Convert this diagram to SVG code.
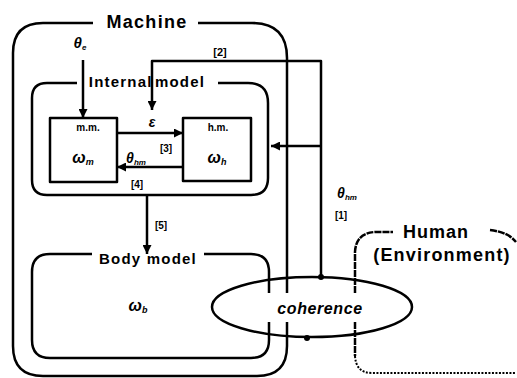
<svg xmlns="http://www.w3.org/2000/svg" width="517" height="378" viewBox="0 0 517 378">
<defs>
<style>
.ln{fill:none;stroke:#000;stroke-width:2.5;stroke-linejoin:round}
.hm{fill:none;stroke:#000;stroke-width:2.5;stroke-dasharray:7 1}
.dot{fill:none;stroke:#000;stroke-width:2;stroke-dasharray:2 1.5}
.t{font-family:"Liberation Sans",Arial,sans-serif;font-weight:bold;fill:#000;text-anchor:middle}
.ti{font-family:"Liberation Sans",Arial,sans-serif;font-weight:bold;font-style:italic;fill:#000;text-anchor:middle}
</style>
<marker id="ah" viewBox="0 0 10 10" refX="10" refY="5" markerWidth="9" markerHeight="9" markerUnits="userSpaceOnUse" orient="auto">
<path d="M0,0 L10,5 L0,10 z" fill="#000"/>
</marker>
</defs>
<rect width="517" height="378" fill="#fff"/>

<g id="machine">
<path class="ln" d="M198 23 L252 23 Q287 23 287 58 L287 293 M287 322 L287 346 Q287 376 257 376 L43 376 Q13 376 13 346 L13 53 Q13 23 43 23 L93 23"/>
<text class="t" x="147" y="28" font-size="18" letter-spacing="1.3">Machine</text>
</g>

<g id="internal-model">
<path class="ln" d="M77 83 L47 83 Q32 83 32 98 L32 180 Q32 195 47 195 L251 195 Q268 195 268 178 L268 103 Q268 83 248 83 L218 83"/>
<text class="t" x="147" y="87" font-size="15" letter-spacing="1.2" word-spacing="-3">Internal model</text>
</g>

<g id="mm">
<rect class="ln" x="50" y="118" width="67" height="64"/>
<text class="t" x="88" y="131" font-size="10">m.m.</text>
<text class="ti" x="83" y="163" font-size="16">ω<tspan font-size="9" dy="2">m</tspan></text>
</g>

<g id="hm">
<rect class="ln" x="183" y="118" width="68" height="63"/>
<text class="t" x="218" y="131" font-size="10">h.m.</text>
<text class="ti" x="217" y="163" font-size="16">ω<tspan font-size="9" dy="2">h</tspan></text>
</g>

<g id="body-model">
<path class="ln" d="M92 254 L50 254 Q32 254 32 272 L32 340 Q32 358 50 358 L251 358 Q269 358 269 340 L269 322 M269 293 L269 272 Q269 254 251 254 L204 254"/>
<text class="t" x="148" y="264" font-size="15" letter-spacing="1.2">Body model</text>
<text class="ti" x="138" y="311" font-size="16">ω<tspan font-size="9" dy="2">b</tspan></text>
</g>

<g id="human">
<path class="hm" d="M355 293 L355 252 Q356 233 375 232 L393 232"/>
<path class="hm" d="M490 230 Q508 232 516 242"/>
<path class="hm" d="M355 322 L355 356"/>
<path class="dot" d="M355 356 Q356 373 372 373 L516 373"/>
<text class="t" x="436" y="238" font-size="18" letter-spacing="1">Human</text>
<text class="t" x="442" y="261" font-size="18" letter-spacing="1.2">(Environment)</text>
</g>

<g id="connectors">
<line class="ln" x1="83" y1="60" x2="83" y2="118" marker-end="url(#ah)"/>
<path class="ln" d="M321 277 L321 61 L152 61 L152 110" marker-end="url(#ah)"/>
<line class="ln" x1="321" y1="146" x2="271" y2="146" marker-end="url(#ah)"/>
<line class="ln" x1="117" y1="133" x2="183" y2="133" marker-end="url(#ah)"/>
<line class="ln" x1="183" y1="167" x2="117" y2="167" marker-end="url(#ah)"/>
<line class="ln" x1="147" y1="195" x2="147" y2="254" marker-end="url(#ah)"/>
<circle cx="321" cy="277" r="3" fill="#000"/>
<circle cx="307" cy="338" r="3" fill="#000"/>
<text class="ti" x="80" y="48" font-size="15">θ<tspan font-size="8" dy="2">e</tspan></text>
<text class="t" x="220" y="56" font-size="11">[2]</text>
<text class="ti" x="152" y="127" font-size="14">ε</text>
<text class="ti" x="136" y="163" font-size="14">θ<tspan font-size="8" dy="2">hm</tspan></text>
<text class="t" x="166" y="152" font-size="10">[3]</text>
<text class="t" x="137" y="188" font-size="10">[4]</text>
<text class="t" x="161" y="229" font-size="10">[5]</text>
<text class="ti" x="347" y="198" font-size="14">θ<tspan font-size="8" dy="2">hm</tspan></text>
<text class="t" x="341" y="219" font-size="10">[1]</text>
</g>

<g id="coherence">
<ellipse class="ln" cx="312" cy="307" rx="100" ry="30"/>
<text class="ti" x="320" y="314" font-size="16" letter-spacing="0.6">coherence</text>
</g>
</svg>
